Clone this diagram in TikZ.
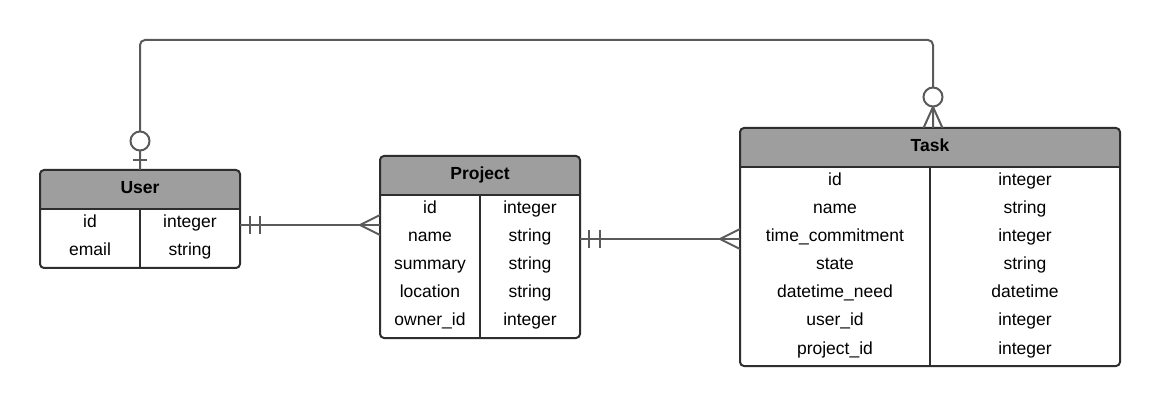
\documentclass[tikz,border=0pt]{standalone}
\usepackage{fontspec}
\setmainfont{Liberation Sans}
\usetikzlibrary{calc}
\definecolor{hdr}{HTML}{9E9E9E}
\definecolor{edge}{HTML}{2E2E2E}
\definecolor{cnc}{HTML}{5A5A5A}
\tikzset{
  tbl/.style 2 args={draw=edge, line width=2pt, rounded corners=4pt, fill=white,
    minimum width=#1, minimum height=#2, inner sep=0pt, outer sep=0pt,
    path picture={
      \fill[hdr] (path picture bounding box.north west) rectangle ([yshift=-39.5pt]path picture bounding box.north east);
      \draw[edge, line width=2pt] ([yshift=-39.5pt]path picture bounding box.north west) -- ([yshift=-39.5pt]path picture bounding box.north east);
      \draw[edge, line width=2pt] ([yshift=-39.5pt]path picture bounding box.north) -- (path picture bounding box.south);
    }},
  cell/.style={inner sep=0pt, anchor=base, font=\fontsize{17.5}{21}\selectfont, text=black},
  hd/.style={inner sep=0pt, anchor=base, font=\fontsize{17.5}{21}\selectfont\bfseries, text=black},
  cn/.style={draw=cnc, line width=2pt},
}
\begin{document}
\begin{tikzpicture}[x=1pt, y=-1pt]
\useasboundingbox (0,0) rectangle (1160,406);
\fill[white] (0,0) rectangle (1160,406);

% tables
\node[tbl={200pt}{98pt}] (user) at (140,219) {};
\node[tbl={200pt}{182pt}] (project) at (480,247) {};
\node[tbl={380pt}{238pt}] (task) at (930,247) {};

\node[hd] (userT) at (140,194) {User};
\node[hd] (projectT) at (480,179.5) {Project};
\node[hd] (taskT) at (930,151.5) {Task};

\foreach \n/\t [count=\i] in {id/integer, email/string}
  {\node[cell] (u-n\i) at (90,{228+28*(\i-1)}) {\n};
   \node[cell] (u-t\i) at (190,{228+28*(\i-1)}) {\t};}

\foreach \n/\t [count=\i] in {id/integer, name/string, summary/string, location/string, owner\_id/integer}
  {\node[cell] (p-n\i) at (430,{214+28*(\i-1)}) {\n};
   \node[cell] (p-t\i) at (530,{214+28*(\i-1)}) {\t};}

\foreach \n/\t [count=\i] in {id/integer, name/string, time\_commitment/integer, state/string, datetime\_need/datetime, user\_id/integer, project\_id/integer}
  {\node[cell] (t-n\i) at (835,{186+28*(\i-1)}) {\n};
   \node[cell] (t-t\i) at (1025,{186+28*(\i-1)}) {\t};}

% User -- Project
\coordinate (a1) at ($(user.east)+(0,6)$);
\coordinate (a2) at ($(project.west)+(0,-22)$);
\draw[cn] (a1) -- (a2);
\draw[cn] ($(a1)+(10,-9)$) -- ($(a1)+(10,9)$);
\draw[cn] ($(a1)+(20,-9)$) -- ($(a1)+(20,9)$);
\draw[cn] ($(a2)+(0,-10)$) -- ($(a2)+(-20,0)$) -- ($(a2)+(0,10)$);

% Project -- Task
\coordinate (b1) at ($(project.east)+(0,-8)$);
\coordinate (b2) at ($(task.west)+(0,-8)$);
\draw[cn] (b1) -- (b2);
\draw[cn] ($(b1)+(9,-9)$) -- ($(b1)+(9,9)$);
\draw[cn] ($(b1)+(20,-9)$) -- ($(b1)+(20,9)$);
\draw[cn] ($(b2)+(0,-10)$) -- ($(b2)+(-20,0)$) -- ($(b2)+(0,10)$);

% User -- Task (top)
\coordinate (bendL) at (140,40);
\coordinate (bendR) at (933,40);
\coordinate (c2) at (bendR |- task.north);
\draw[cn, rounded corners=5pt] (user.north) -- (bendL) -- (bendR) -- (c2);
\draw[cn] ($(user.north)+(-7,-10)$) -- ($(user.north)+(7,-10)$);
\draw[cn, fill=white] ($(user.north)+(0,-29)$) circle[radius=9.5pt];
\draw[cn] ($(c2)+(-9.5,0)$) -- ($(c2)+(0,-21)$) -- ($(c2)+(9.5,0)$);
\draw[cn, fill=white] ($(c2)+(0,-31)$) circle[radius=9.5pt];
\end{tikzpicture}
\end{document}
